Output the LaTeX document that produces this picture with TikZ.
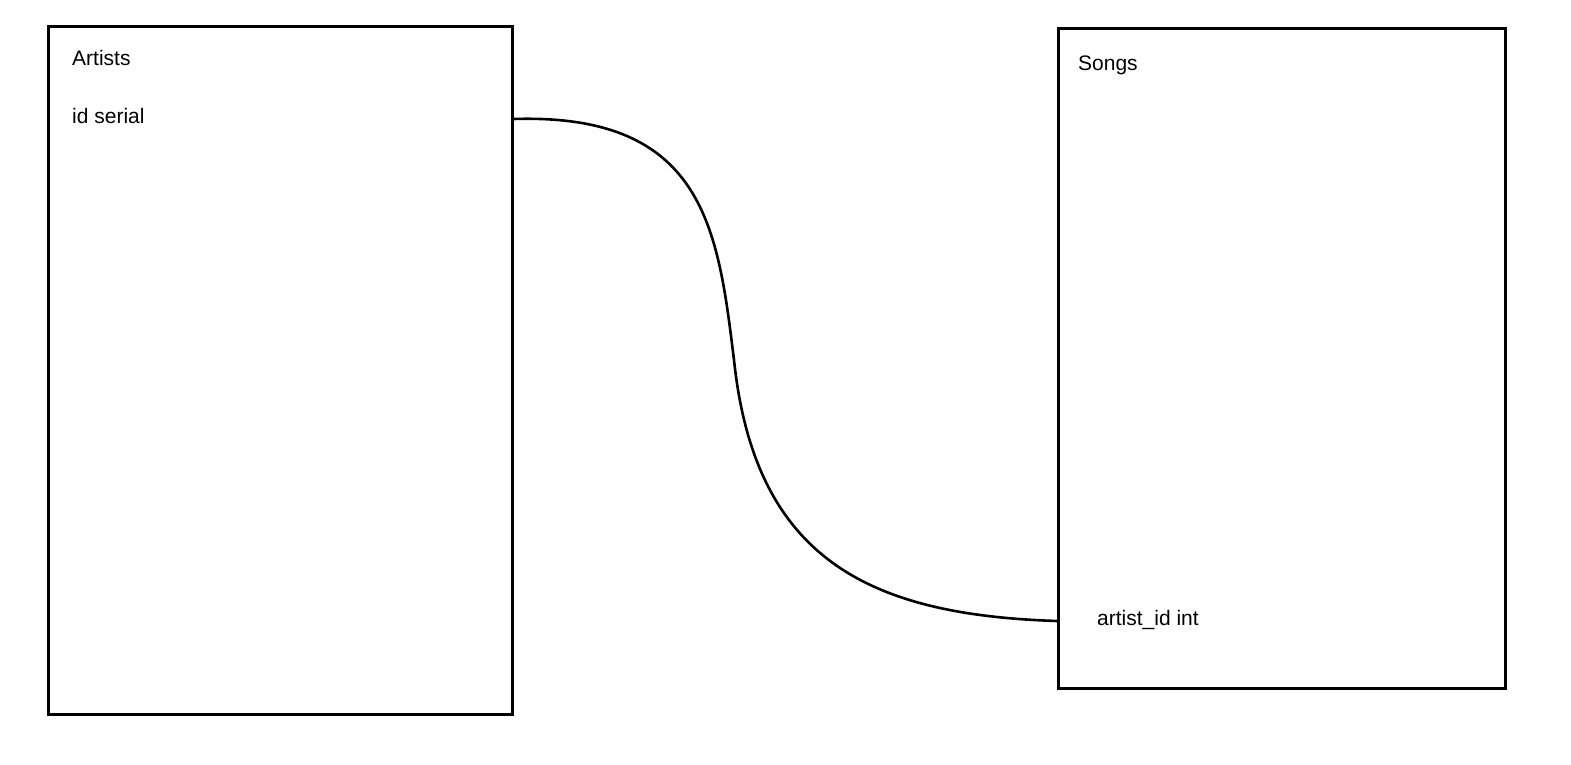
\documentclass[tikz,border=0pt]{standalone}
\usepackage{fontspec}
\setmainfont{Liberation Sans}
\begin{document}
\begin{tikzpicture}[x=1pt,y=-1pt,
  tablebox/.style={draw=black,line width=2.6pt,inner sep=0pt,fill=none},
  field/.style={anchor=base west,inner sep=0pt,font=\fontsize{21}{24}\selectfont},
  link/.style={draw=black,line width=2.6pt}]
\useasboundingbox (0,0) rectangle (1571,765);
\node[tablebox,anchor=north west,minimum width=464pt,minimum height=688pt] (artists) at (47,25) {};
\node[tablebox,anchor=north west,minimum width=447pt,minimum height=660pt] (songs) at (1057,27) {};
\node[field] (artiststitle) at (72,66) {Artists};
\node[field] (idserial) at (72,124) {id serial};
\node[field] (songstitle) at (1078,71) {Songs};
\node[field] (artistid) at (1097,625) {artist\_id int};
\coordinate (a1) at (artists.east |- 0,119);
\coordinate (s1) at (songs.west |- 0,621);
\coordinate (mid) at (734,360);
\draw[link] (a1) .. controls (705,113) and (718,230) .. (mid)
  .. controls (755,560) and (870,615) .. (s1);
\end{tikzpicture}
\end{document}
